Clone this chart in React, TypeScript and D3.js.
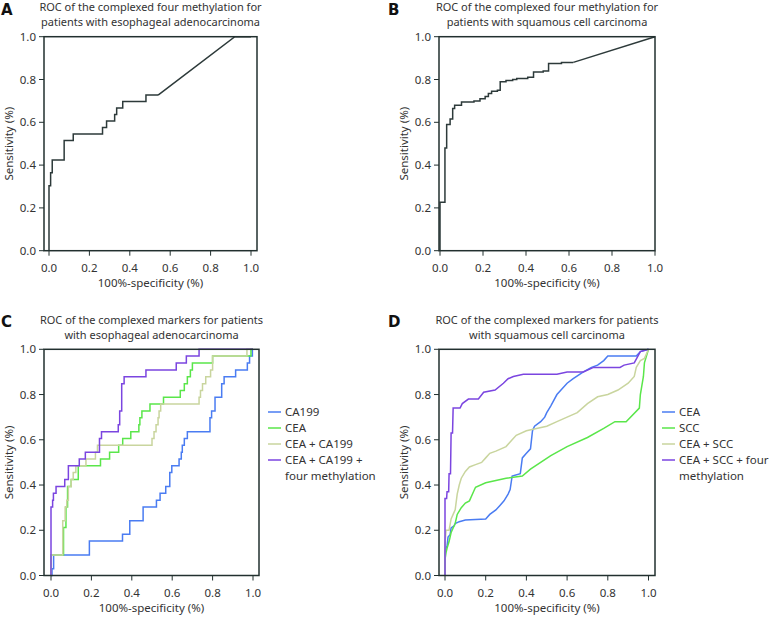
import React from "react";
import * as d3 from "d3";

type Pt = [number, number];

const TICK_VALUES = [0, 0.2, 0.4, 0.6, 0.8, 1.0];
const TICK_LABELS = ["0.0", "0.2", "0.4", "0.6", "0.8", "1.0"];
const X_TITLE = "100%-specificity (%)";
const Y_TITLE = "Sensitivity (%)";

const TITLE_A = ["ROC of the complexed four methylation for", "patients with esophageal adenocarcinoma"];
const TITLE_B = ["ROC of the complexed four methylation for", "patients with squamous cell carcinoma"];
const TITLE_C = ["ROC of the complexed markers for patients", "with esophageal adenocarcinoma"];
const TITLE_D = ["ROC of the complexed markers for patients", "with squamous cell carcinoma"];

// Panel A: four methylation, adenocarcinoma (step points, then linear tail)
const A_STEPS: Pt[] = [
  [0, 0], [0, 0.303], [0.008, 0.364], [0.016, 0.424], [0.075, 0.515], [0.12, 0.545],
  [0.265, 0.576], [0.285, 0.606], [0.325, 0.636], [0.335, 0.667], [0.365, 0.697],
  [0.48, 0.727], [0.54, 0.727],
];
const A_TAIL: Pt[] = [[0.54, 0.727], [0.92, 1.0], [1.0, 1.0]];

// Panel B: four methylation, squamous cell carcinoma
const B_STEPS: Pt[] = [
  [0, 0], [0, 0.226], [0.023, 0.48], [0.031, 0.59], [0.047, 0.615], [0.059, 0.665],
  [0.068, 0.68], [0.1, 0.695], [0.158, 0.7], [0.186, 0.71], [0.21, 0.72], [0.225, 0.735],
  [0.24, 0.745], [0.267, 0.75], [0.28, 0.79], [0.307, 0.795], [0.338, 0.8], [0.357, 0.805],
  [0.408, 0.81], [0.435, 0.835], [0.48, 0.84], [0.505, 0.875], [0.565, 0.88], [0.62, 0.88],
];
const B_TAIL: Pt[] = [[0.62, 0.88], [1.0, 1.0]];

// Panel C: complexed markers, adenocarcinoma
const C_NAMES = ["CA199", "CEA", "CEA + CA199", "CEA + CA199 +|four methylation"];
const C_CA199: Pt[] = [
  [0, 0], [0.005, 0.03], [0.013, 0.091], [0.19, 0.152], [0.354, 0.182], [0.39, 0.242],
  [0.456, 0.303], [0.522, 0.333], [0.54, 0.364], [0.568, 0.394], [0.588, 0.455],
  [0.598, 0.485], [0.634, 0.515], [0.645, 0.545], [0.65, 0.576], [0.66, 0.606],
  [0.675, 0.636], [0.787, 0.697], [0.795, 0.727], [0.812, 0.788], [0.845, 0.848],
  [0.857, 0.879], [0.914, 0.909], [0.972, 0.939], [0.983, 0.97], [0.997, 1.0], [1, 1],
];
const C_CEA: Pt[] = [
  [0, 0], [0, 0.091], [0.062, 0.212], [0.074, 0.303], [0.082, 0.394], [0.1, 0.424],
  [0.135, 0.485], [0.245, 0.515], [0.29, 0.545], [0.335, 0.576], [0.355, 0.606],
  [0.395, 0.636], [0.435, 0.667], [0.44, 0.697], [0.45, 0.727], [0.49, 0.758],
  [0.557, 0.788], [0.64, 0.818], [0.66, 0.848], [0.675, 0.879], [0.69, 0.909],
  [0.7, 0.939], [0.8, 0.97], [0.99, 1.0], [1, 1],
];
const C_CEA_CA199: Pt[] = [
  [0, 0], [0, 0.091], [0.058, 0.242], [0.07, 0.303], [0.078, 0.333], [0.086, 0.394],
  [0.1, 0.424], [0.11, 0.455], [0.123, 0.485], [0.173, 0.515], [0.22, 0.545], [0.23, 0.576],
  [0.5, 0.606], [0.51, 0.636], [0.52, 0.667], [0.53, 0.697], [0.535, 0.727], [0.543, 0.758],
  [0.733, 0.788], [0.74, 0.818], [0.75, 0.848], [0.766, 0.879], [0.79, 0.909], [0.8, 0.97],
  [0.97, 1.0], [1, 1],
];
const C_ALL: Pt[] = [
  [0, 0], [0, 0.303], [0.008, 0.333], [0.012, 0.364], [0.025, 0.394], [0.068, 0.424],
  [0.086, 0.485], [0.14, 0.515], [0.17, 0.545], [0.24, 0.606], [0.25, 0.636], [0.333, 0.667],
  [0.34, 0.727], [0.35, 0.848], [0.362, 0.879], [0.47, 0.909], [0.62, 0.939], [0.67, 0.97],
  [0.733, 1.0], [1.0, 1.0],
];

// Panel D: complexed markers, squamous cell carcinoma
const D_NAMES = ["CEA", "SCC", "CEA + SCC", "CEA + SCC + four|methylation"];
const D_CEA: Pt[] = [
  [0, 0], [0, 0.1], [0.005, 0.12], [0.01, 0.13], [0.015, 0.17], [0.025, 0.18], [0.03, 0.21],
  [0.045, 0.22], [0.05, 0.23], [0.07, 0.238], [0.1, 0.245], [0.2, 0.25], [0.22, 0.27],
  [0.25, 0.29], [0.27, 0.31], [0.29, 0.33], [0.31, 0.36], [0.32, 0.38], [0.33, 0.44],
  [0.37, 0.45], [0.38, 0.52], [0.4, 0.54], [0.42, 0.56], [0.43, 0.64], [0.44, 0.66],
  [0.47, 0.68], [0.49, 0.7], [0.5, 0.72], [0.52, 0.75], [0.55, 0.8], [0.57, 0.82],
  [0.6, 0.85], [0.63, 0.87], [0.68, 0.9], [0.72, 0.92], [0.75, 0.93], [0.78, 0.95],
  [0.8, 0.97], [0.94, 0.97], [0.96, 0.99], [1, 1],
];
const D_SCC: Pt[] = [
  [0, 0], [0, 0.07], [0.005, 0.1], [0.01, 0.12], [0.02, 0.15], [0.03, 0.19], [0.05, 0.23],
  [0.06, 0.27], [0.08, 0.3], [0.1, 0.32], [0.12, 0.33], [0.14, 0.37], [0.15, 0.39],
  [0.2, 0.41], [0.25, 0.42], [0.3, 0.43], [0.38, 0.44], [0.42, 0.47], [0.47, 0.5],
  [0.52, 0.53], [0.6, 0.57], [0.7, 0.61], [0.78, 0.65], [0.835, 0.68], [0.89, 0.68],
  [0.955, 0.74], [0.96, 0.8], [0.975, 0.88], [0.98, 0.94], [1.0, 1.0],
];
const D_CEA_SCC: Pt[] = [
  [0, 0], [0, 0.14], [0.005, 0.2], [0.02, 0.2], [0.03, 0.25], [0.04, 0.27], [0.05, 0.29],
  [0.06, 0.36], [0.07, 0.4], [0.08, 0.43], [0.1, 0.46], [0.12, 0.48], [0.15, 0.49],
  [0.18, 0.5], [0.2, 0.52], [0.22, 0.54], [0.25, 0.55], [0.3, 0.57], [0.33, 0.6],
  [0.35, 0.62], [0.4, 0.64], [0.45, 0.65], [0.5, 0.66], [0.55, 0.68], [0.6, 0.7],
  [0.65, 0.72], [0.7, 0.76], [0.75, 0.79], [0.8, 0.8], [0.85, 0.82], [0.9, 0.85],
  [0.93, 0.88], [0.94, 0.92], [0.96, 0.95], [0.98, 0.96], [1, 1],
];
const D_ALL: Pt[] = [
  [0, 0], [0, 0.34], [0.008, 0.34], [0.01, 0.37], [0.018, 0.37], [0.02, 0.45], [0.027, 0.45],
  [0.03, 0.63], [0.037, 0.63], [0.04, 0.74], [0.074, 0.74], [0.085, 0.76], [0.115, 0.78],
  [0.164, 0.78], [0.19, 0.81], [0.246, 0.82], [0.287, 0.85], [0.31, 0.87], [0.336, 0.88],
  [0.385, 0.89], [0.55, 0.89], [0.6, 0.9], [0.68, 0.9], [0.73, 0.92], [0.86, 0.92],
  [0.88, 0.93], [0.93, 0.94], [0.96, 0.99], [1, 1],
];

const COLORS = { blue: "#4a7cf2", green: "#5ae64a", beige: "#c9d59e", purple: "#7b45e0", dark: "#2d3a3a" };
const FONT = "'Noto Sans', 'DejaVu Sans', sans-serif";

type Series = { pts: Pt[]; color: string; curve: d3.CurveFactory };
type PanelProps = {
  letter: string;
  title: string[];
  frame: { l: number; r: number; t: number; b: number };
  x0: number;
  x1: number;
  series: Series[];
  legend?: { names: string[]; colors: string[]; lineX: number };
  letterX: number;
};

function Panel({ letter, title, frame, x0, x1, series, legend, letterX }: PanelProps) {
  const x = d3.scaleLinear().domain([0, 1]).range([x0, x1]);
  const y = d3.scaleLinear().domain([0, 1]).range([frame.b, frame.t]);
  const cx = (frame.l + frame.r) / 2;
  const cy = (frame.t + frame.b) / 2;
  const axisColor = "#22302f";
  let legendRow = 0;
  return (
    <g>
      <text x={letterX} y={frame.t - 22} fontFamily="'DejaVu Sans', sans-serif" fontWeight="bold" fontSize={15} fill="#111">{letter}</text>
      {title.map((t, i) => (
        <text key={i} x={cx} y={frame.t - 25.5 + i * 15} textAnchor="middle" fontFamily={FONT} fontSize={11} fill="#333">{t}</text>
      ))}
      {series.map((s, i) => {
        const line = d3.line<Pt>().x((d) => x(d[0])).y((d) => y(d[1])).curve(s.curve);
        return <path key={i} d={line(s.pts) || ""} fill="none" stroke={s.color} strokeWidth={1.5} />;
      })}
      <rect x={frame.l} y={frame.t} width={frame.r - frame.l} height={frame.b - frame.t} fill="none" stroke={axisColor} strokeWidth={1.5} />
      {TICK_VALUES.map((v, i) => (
        <g key={"y" + i}>
          <line x1={frame.l - 5} x2={frame.l} y1={y(v)} y2={y(v)} stroke={axisColor} strokeWidth={1} />
          <text x={frame.l - 8} y={y(v)} dy="0.36em" textAnchor="end" fontFamily={FONT} fontSize={11.5} fill="#333">{TICK_LABELS[i]}</text>
        </g>
      ))}
      {TICK_VALUES.map((v, i) => (
        <g key={"x" + i}>
          <line x1={x(v)} x2={x(v)} y1={frame.b} y2={frame.b + 5} stroke={axisColor} strokeWidth={1} />
          <text x={x(v)} y={frame.b + 21} textAnchor="middle" fontFamily={FONT} fontSize={11.5} fill="#333">{TICK_LABELS[i]}</text>
        </g>
      ))}
      <text x={cx} y={frame.b + 36} textAnchor="middle" fontFamily={FONT} fontSize={11.5} fill="#333">{X_TITLE}</text>
      <text transform={`translate(${frame.l - 31},${cy}) rotate(-90)`} textAnchor="middle" fontFamily={FONT} fontSize={11.5} fill="#333">{Y_TITLE}</text>
      {legend &&
        legend.names.map((n, i) => {
          const lines = n.split("|");
          const row = legendRow;
          legendRow += lines.length;
          const ly = 412 + row * 16;
          return (
            <g key={"lg" + i}>
              <line x1={legend.lineX} x2={legend.lineX + 13} y1={ly} y2={ly} stroke={legend.colors[i]} strokeWidth={1.5} />
              {lines.map((t, j) => (
                <text key={j} x={legend.lineX + 17} y={ly + j * 16} dy="0.36em" fontFamily={FONT} fontSize={11.5} fill="#333">{t}</text>
              ))}
            </g>
          );
        })}
    </g>
  );
}

export default function App() {
  const topFrameA = { l: 44, r: 257, t: 36.7, b: 250.7 };
  const topFrameB = { l: 439, r: 655, t: 36.7, b: 250.7 };
  const botFrameC = { l: 44, r: 259, t: 349.3, b: 575.5 };
  const botFrameD = { l: 439, r: 655, t: 349.3, b: 575.5 };
  const colors4 = [COLORS.blue, COLORS.green, COLORS.beige, COLORS.purple];
  return (
    <svg width={771} height={618} style={{ display: "block", position: "absolute", left: 0, top: 0, background: "#fff" }}>
      <rect width={771} height={618} fill="#fff" />
      <Panel letter="A" letterX={1} title={TITLE_A} frame={topFrameA} x0={49} x1={251}
        series={[
          { pts: A_STEPS, color: COLORS.dark, curve: d3.curveStepAfter },
          { pts: A_TAIL, color: COLORS.dark, curve: d3.curveLinear },
        ]} />
      <Panel letter="B" letterX={388} title={TITLE_B} frame={topFrameB} x0={440} x1={655}
        series={[
          { pts: B_STEPS, color: COLORS.dark, curve: d3.curveStepAfter },
          { pts: B_TAIL, color: COLORS.dark, curve: d3.curveLinear },
        ]} />
      <Panel letter="C" letterX={1} title={TITLE_C} frame={botFrameC} x0={51} x1={253}
        series={[
          { pts: C_CA199, color: COLORS.blue, curve: d3.curveStepAfter },
          { pts: C_CEA, color: COLORS.green, curve: d3.curveStepAfter },
          { pts: C_CEA_CA199, color: COLORS.beige, curve: d3.curveStepAfter },
          { pts: C_ALL, color: COLORS.purple, curve: d3.curveStepAfter },
        ]}
        legend={{ names: C_NAMES, colors: colors4, lineX: 268 }} />
      <Panel letter="D" letterX={388} title={TITLE_D} frame={botFrameD} x0={445} x1={648.5}
        series={[
          { pts: D_CEA, color: COLORS.blue, curve: d3.curveLinear },
          { pts: D_SCC, color: COLORS.green, curve: d3.curveLinear },
          { pts: D_CEA_SCC, color: COLORS.beige, curve: d3.curveLinear },
          { pts: D_ALL, color: COLORS.purple, curve: d3.curveLinear },
        ]}
        legend={{ names: D_NAMES, colors: colors4, lineX: 662 }} />
    </svg>
  );
}
